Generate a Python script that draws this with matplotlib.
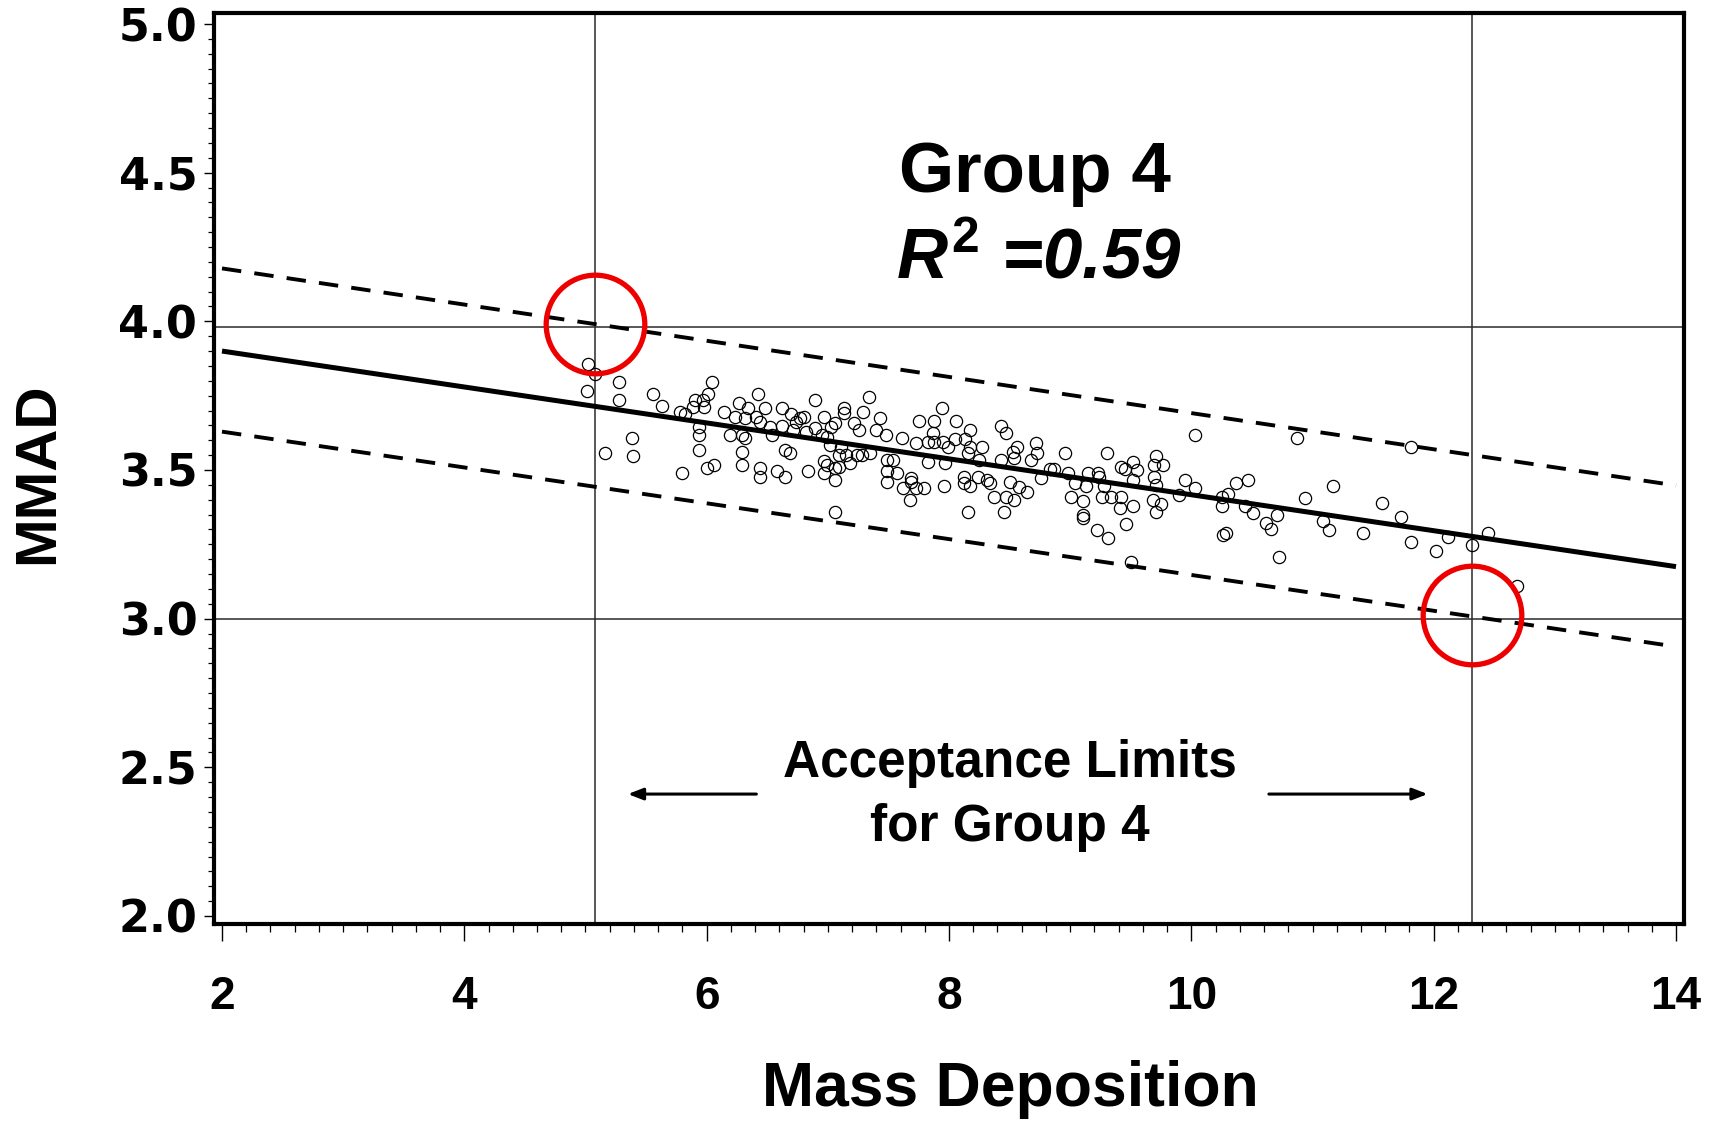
import matplotlib
matplotlib.use("Agg")
import matplotlib.pyplot as plt
from matplotlib.ticker import MultipleLocator

# Observed batches: mass deposition vs. MMAD
mass_dep = [
    5.02, 5.08, 5.28, 5.01, 5.28, 5.56, 5.63, 5.78, 5.82, 6.04, 6.01, 5.90, 5.97, 5.98, 5.89,
    5.94, 5.94, 5.94, 5.38, 5.16, 5.39, 6.00, 6.06, 5.80,
    6.42, 6.27, 6.34, 6.48, 6.14, 6.23, 6.32, 6.41, 6.44, 6.62, 6.70, 6.77, 6.80, 6.74, 6.89,
    6.97, 7.13, 7.13, 7.06, 7.03, 7.34, 7.29, 7.22, 7.43, 7.40, 7.26, 6.19, 6.29, 6.32, 6.52,
    6.54, 6.62, 6.71, 6.82, 6.89, 6.95, 6.99, 6.65, 6.69, 6.29, 6.29, 6.44, 6.44, 6.58, 6.65,
    6.84, 6.97, 6.99, 6.97, 7.06, 7.09, 7.06, 7.09, 7.15, 7.18, 7.24, 7.28, 7.35, 7.49, 7.49,
    7.49, 7.06, 7.48, 7.02, 7.11,
    7.94, 7.75, 7.88, 8.06, 7.87, 8.17, 8.43, 8.47, 7.61, 7.73, 7.83, 7.88, 7.95, 7.99, 8.05,
    8.13, 8.17, 8.16, 8.27, 8.56, 8.53, 8.54, 8.72, 8.73, 8.68, 8.43, 8.25, 7.83, 7.97, 7.54,
    7.57, 7.69, 7.69, 7.62, 7.73, 7.79, 7.68, 7.96, 8.12, 8.12, 8.17, 8.24, 8.31, 8.34, 8.50,
    8.58, 8.64, 8.37, 8.47, 8.54, 8.16, 8.45, 8.83, 8.87, 8.76,
    10.03, 8.96, 9.30, 9.52, 9.55, 9.42, 9.45, 9.71, 9.77, 9.69, 9.69, 8.98, 9.15, 9.23, 9.24,
    9.52, 9.04, 9.13, 9.28, 9.95, 10.03, 9.71, 9.90, 10.25, 10.25, 9.01, 9.11, 9.26, 9.34, 9.42,
    9.41, 9.52, 9.68, 9.75, 9.71, 9.11, 9.11, 9.46, 9.22, 9.31, 10.26, 10.29, 9.50,
    10.87, 10.47, 10.37, 11.17, 10.30, 10.44, 10.51, 10.71, 10.62, 10.66, 10.94, 11.09, 11.14,
    11.42, 11.57, 10.72,
    11.81, 11.73, 11.81, 12.12, 12.02, 12.32, 12.45, 12.69,
]
mmad = [
    3.856, 3.822, 3.795, 3.767, 3.735, 3.755, 3.715, 3.696, 3.687, 3.795, 3.755, 3.735, 3.735, 3.713, 3.713,
    3.645, 3.618, 3.567, 3.606, 3.556, 3.548, 3.508, 3.517, 3.489,
    3.755, 3.724, 3.707, 3.707, 3.696, 3.679, 3.674, 3.679, 3.662, 3.707, 3.687, 3.674, 3.679, 3.662, 3.735,
    3.679, 3.707, 3.691, 3.657, 3.645, 3.746, 3.696, 3.657, 3.676, 3.634, 3.634, 3.618, 3.618, 3.606, 3.645,
    3.618, 3.649, 3.634, 3.629, 3.640, 3.618, 3.612, 3.567, 3.556, 3.559, 3.517, 3.508, 3.478, 3.497, 3.478,
    3.497, 3.530, 3.517, 3.489, 3.506, 3.511, 3.466, 3.550, 3.550, 3.522, 3.550, 3.550, 3.556, 3.533, 3.497,
    3.461, 3.360, 3.618, 3.584, 3.578,
    3.707, 3.666, 3.666, 3.666, 3.625, 3.634, 3.648, 3.625, 3.606, 3.590, 3.595, 3.595, 3.595, 3.578, 3.603,
    3.603, 3.578, 3.558, 3.578, 3.578, 3.561, 3.539, 3.590, 3.556, 3.533, 3.533, 3.533, 3.528, 3.522, 3.533,
    3.489, 3.472, 3.461, 3.439, 3.439, 3.439, 3.399, 3.446, 3.477, 3.457, 3.446, 3.477, 3.466, 3.455, 3.461,
    3.444, 3.427, 3.410, 3.410, 3.399, 3.360, 3.360, 3.505, 3.505, 3.472,
    3.618, 3.558, 3.558, 3.528, 3.500, 3.509, 3.505, 3.547, 3.517, 3.517, 3.477, 3.489, 3.489, 3.489, 3.475,
    3.466, 3.457, 3.446, 3.446, 3.468, 3.438, 3.449, 3.416, 3.410, 3.379, 3.410, 3.397, 3.408, 3.408, 3.408,
    3.371, 3.379, 3.399, 3.386, 3.360, 3.349, 3.337, 3.318, 3.298, 3.270, 3.281, 3.289, 3.191,
    3.606, 3.468, 3.457, 3.446, 3.418, 3.379, 3.356, 3.349, 3.321, 3.300, 3.407, 3.327, 3.298,
    3.289, 3.388, 3.208,
    3.576, 3.341, 3.259, 3.276, 3.227, 3.248, 3.289, 3.110,
]

# Regression line and prediction limits (end points over the plotted range)
fit_x = [2.0, 14.0]
fit_y = [3.900, 3.175]
upper_y = [4.178, 3.448]
lower_y = [3.629, 2.906]

# Acceptance limits and the corners where they meet the prediction band
limit_x = [5.08, 12.32]
limit_y = [3.98, 3.00]
corner_x = [5.08, 12.32]
corner_y = [3.99, 3.013]

x_ticks = [2, 4, 6, 8, 10, 12, 14]
y_ticks = [2.0, 2.5, 3.0, 3.5, 4.0, 4.5, 5.0]

W, H = 1718, 1121
fig = plt.figure(figsize=(W / 100, H / 100), dpi=100)
ax = fig.add_axes([214 / W, 1 - 924 / H, (1684 - 214) / W, (924 - 13) / H])

ax.set_xlim(1.934, 14.066)
ax.set_ylim(1.973, 5.037)

for xv in limit_x:
    ax.axvline(xv, color="#2a2a2a", lw=1.1, zorder=1)
for yv in limit_y:
    ax.axhline(yv, color="#2a2a2a", lw=1.1, zorder=1)

ax.plot(fit_x, fit_y, color="black", lw=3.6, solid_capstyle="butt", zorder=3)
for band in (upper_y, lower_y):
    ax.plot(fit_x, band, color="black", lw=2.8, dashes=(5.0, 3.4),
            dash_capstyle="butt", zorder=3)

ax.plot(mass_dep, mmad, linestyle="none", marker="o", markersize=8.8,
        markerfacecolor="none", markeredgecolor="black", markeredgewidth=0.9, zorder=4)

ax.plot(corner_x, corner_y, linestyle="none", marker="o", markersize=71,
        markerfacecolor="none", markeredgecolor="#ee0000", markeredgewidth=3.8, zorder=5)

# Axis styling
for sp in ax.spines.values():
    sp.set_linewidth(3.0)
ax.xaxis.set_major_locator(MultipleLocator(2))
ax.xaxis.set_minor_locator(MultipleLocator(0.2))
ax.yaxis.set_major_locator(MultipleLocator(0.5))
ax.yaxis.set_minor_locator(MultipleLocator(0.05))
ax.set_xticks(x_ticks)
ax.set_yticks(y_ticks)
ax.set_xticklabels([str(v) for v in x_ticks], fontfamily="Liberation Sans",
                   fontweight="bold", fontsize=33)
ax.set_yticklabels([f"{v:.1f}" for v in y_ticks], fontfamily="DejaVu Sans",
                   fontweight="bold", fontsize=32)
ax.tick_params(axis="x", which="major", direction="out", length=12, width=1.0, pad=25)
ax.tick_params(axis="x", which="minor", direction="out", length=6, width=0.9)
ax.tick_params(axis="y", which="major", direction="out", length=7, width=1.0, pad=5)
ax.tick_params(axis="y", which="minor", direction="out", length=4, width=0.9)

# Titles and annotations
plt.rcParams["mathtext.fontset"] = "custom"
plt.rcParams["mathtext.rm"] = "Liberation Sans:bold"
plt.rcParams["mathtext.it"] = "Liberation Sans:italic:bold"

fig.text(1035 / W, 1 - 192 / H, "Group 4", ha="center", va="baseline",
         fontfamily="Liberation Sans", fontweight="bold", fontsize=51)
fig.text(1039 / W, 1 - 278 / H, r"$R^{2}$ =0.59", ha="center", va="baseline",
         fontfamily="Liberation Sans", fontweight="bold", fontstyle="italic", fontsize=51)

fig.text(1010 / W, 1 - 764 / H, "Acceptance Limits", ha="center", va="center",
         fontfamily="Liberation Sans", fontweight="bold", fontsize=37)
fig.text(1010 / W, 1 - 827 / H, "for Group 4", ha="center", va="center",
         fontfamily="Liberation Sans", fontweight="bold", fontsize=37)

arrow_y = 2.41
arrow_style = dict(arrowstyle="-|>,head_length=0.9,head_width=0.35", color="black", lw=2.2,
                   shrinkA=0, shrinkB=0)
ax.annotate("", xy=(5.35, arrow_y), xytext=(6.41, arrow_y), arrowprops=arrow_style)
ax.annotate("", xy=(11.95, arrow_y), xytext=(10.64, arrow_y), arrowprops=arrow_style)

fig.text(1010 / W, 1 - 1106 / H, "Mass Deposition", ha="center", va="baseline",
         fontfamily="Liberation Sans", fontweight="bold", fontsize=45)
fig.text(38 / W, 1 - 473 / H, "MMAD", ha="center", va="center", rotation=90,
         fontfamily="Liberation Sans", fontweight="bold", fontsize=42)

fig.savefig("out.png", dpi=100)
